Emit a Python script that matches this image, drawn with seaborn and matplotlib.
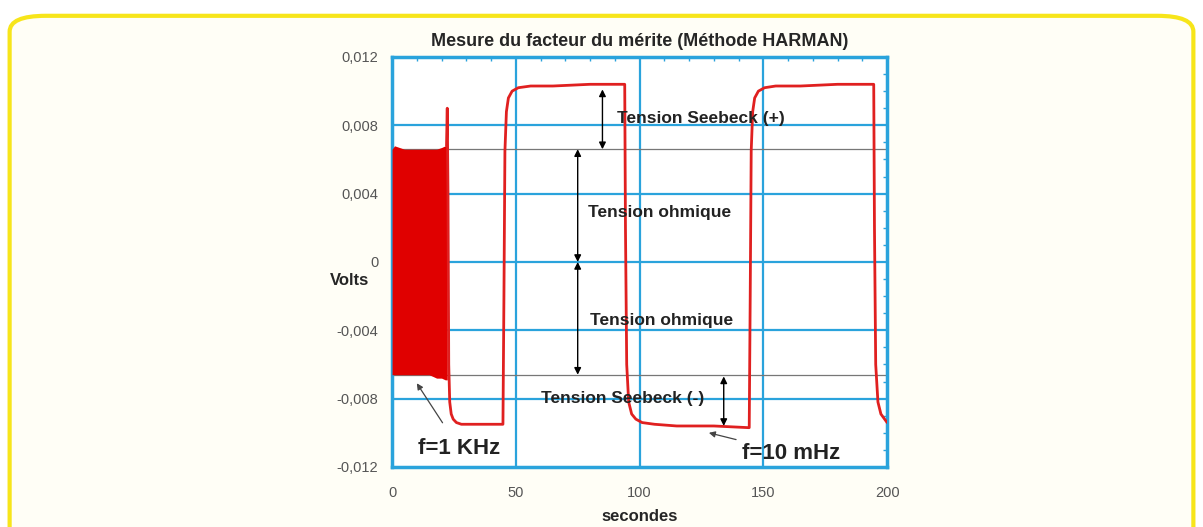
import matplotlib
matplotlib.use("Agg")
import matplotlib.pyplot as plt
from matplotlib.patches import FancyBboxPatch
from matplotlib.ticker import MultipleLocator, FuncFormatter
import pandas as pd
import seaborn as sns

# 1 kHz band (envelope of the fast signal)
band_t = [0.0, 1.0, 5.0, 10.0, 15.0, 18.0, 20.0, 21.5, 22.3]
band_top = [0.0066, 0.0068, 0.0066, 0.0066, 0.0066, 0.0066, 0.0067, 0.0068, 0.0068]
band_bot = [-0.0066, -0.0066, -0.0066, -0.0066, -0.0066, -0.0068, -0.0068, -0.0069, -0.0069]

# 10 mHz square response
wave_t = [22.0, 22.3, 22.6, 22.9, 23.3, 23.9, 24.7, 26.0, 28.0, 35.0, 44.8,
          45.2, 45.6, 46.2, 47.0, 48.5, 51.0, 56.0, 65.0, 80.0, 94.0,
          94.3, 94.8, 95.6, 96.8, 98.5, 101.0, 106.0, 115.0, 130.0, 144.3,
          144.7, 145.1, 145.7, 146.5, 148.0, 150.5, 155.0, 165.0, 180.0, 194.6,
          194.9, 195.4, 196.3, 197.5, 199.0, 200.0]
wave_v = [0.0068, 0.0090, 0.0040, -0.0060, -0.0082, -0.0089, -0.0092, -0.0094, -0.0095, -0.0095, -0.0095,
          -0.0020, 0.0065, 0.0088, 0.0096, 0.0100, 0.0102, 0.0103, 0.0103, 0.0104, 0.0104,
          0.0020, -0.0060, -0.0082, -0.0089, -0.0092, -0.0094, -0.0095, -0.0096, -0.0096, -0.0097,
          -0.0020, 0.0065, 0.0088, 0.0096, 0.0100, 0.0102, 0.0103, 0.0103, 0.0104, 0.0104,
          0.0020, -0.0060, -0.0082, -0.0089, -0.0092, -0.0094]

ref_levels = [0.0066, -0.0066]
x_ticks = [0, 50, 100, 150, 200]
y_ticks = [-0.012, -0.008, -0.004, 0, 0.004, 0.008, 0.012]

wave = pd.DataFrame({"t": wave_t, "v": wave_v})

sns.set_theme(style="white")
plt.rcParams['font.family'] = ['Liberation Sans', 'DejaVu Sans']

blue = "#2aa3dc"
red = "#e02020"

fig = plt.figure(figsize=(12.03, 5.27), dpi=100)
fig.patch.set_facecolor("white")
frame = FancyBboxPatch((0.008, -0.05), 0.984, 1.02, boxstyle="round,pad=0,rounding_size=0.03",
                       transform=fig.transFigure, facecolor="#fffef6", edgecolor="#f7e51a",
                       linewidth=3, zorder=-10)
fig.patches.append(frame)

ax = fig.add_axes([0.3259, 0.1139, 0.4115, 0.778])
ax.set_zorder(5)
ax.set_facecolor("white")

# grid and reference levels
for yv in y_ticks[1:-1]:
    ax.axhline(yv, color=blue, lw=1.6, zorder=1)
for xv in x_ticks[1:-1]:
    ax.axvline(xv, color=blue, lw=1.6, zorder=1)
for yv in ref_levels:
    ax.axhline(yv, color="#777777", lw=0.9, zorder=1)

ax.fill_between(band_t, band_bot, band_top, color="#e00000", lw=0, zorder=3)
sns.lineplot(data=wave, x="t", y="v", sort=False, color=red, lw=2, ax=ax, zorder=3)

ax.set_xlim(0, 200)
ax.set_ylim(-0.012, 0.012)
ax.set_xticks(x_ticks)
ax.set_yticks(y_ticks)
ax.xaxis.set_minor_locator(MultipleLocator(10))
ax.yaxis.set_minor_locator(MultipleLocator(0.001))
ax.yaxis.set_major_formatter(FuncFormatter(lambda v, p: "0" if abs(v) < 1e-9 else f"{v:.3f}".replace(".", ",")))
ax.tick_params(axis="both", which="both", direction="in", color=blue, top=True, right=True,
               labelsize=10.5, labelcolor="#555555")
ax.tick_params(axis="x", which="major", length=5, pad=14)
ax.tick_params(axis="y", which="major", length=5, pad=10)
ax.tick_params(which="minor", length=3)
for s in ax.spines.values():
    s.set_color(blue)
    s.set_linewidth(2.5)

ax.set_title("Mesure du facteur du mérite (Méthode HARMAN)", fontsize=13, fontweight="bold", pad=8)
ax.set_xlabel("secondes", fontsize=12, fontweight="bold", labelpad=6)
ax.set_ylabel("Volts", fontsize=12, fontweight="bold", rotation=0)
ax.yaxis.set_label_coords(-0.085, 0.454)
ax.yaxis.label.set_va("center")
ax.yaxis.label.set_ha("center")

arrow = dict(arrowstyle="<|-|>", color="black", lw=1, mutation_scale=10, shrinkA=0, shrinkB=0)
ax.annotate("", xy=(85, 0.0101), xytext=(85, 0.0066), arrowprops=arrow)
ax.annotate("", xy=(75, 0.0066), xytext=(75, 0.0), arrowprops=arrow)
ax.annotate("", xy=(75, 0.0), xytext=(75, -0.0066), arrowprops=arrow)
ax.annotate("", xy=(134, -0.0067), xytext=(134, -0.0096), arrowprops=arrow)

txt = dict(fontsize=12.5, fontweight="bold", color="#222222", zorder=5)
ax.text(124.8, 0.0084, "Tension Seebeck (+)", ha="center", va="center", **txt)
ax.text(107.9, 0.0029, "Tension ohmique", ha="center", va="center", **txt)
ax.text(109, -0.00345, "Tension ohmique", ha="center", va="center", **txt)
ax.text(93, -0.0080, "Tension Seebeck (-)", ha="center", va="center", **txt)

big = dict(fontsize=16, fontweight="bold", color="#222222")
ax.annotate("f=1 KHz", xy=(10, -0.0071), xytext=(10.5, -0.0109), ha="left", va="center",
            arrowprops=dict(arrowstyle="-|>", color="#444444", lw=0.9, mutation_scale=9,
                            shrinkA=10, shrinkB=0), **big)
ax.annotate("f=10 mHz", xy=(128, -0.0100), xytext=(141.4, -0.0112), ha="left", va="center",
            arrowprops=dict(arrowstyle="-|>", color="#444444", lw=0.9, mutation_scale=9,
                            shrinkA=2, shrinkB=0), **big)

fig.savefig("out.png", dpi=100)
